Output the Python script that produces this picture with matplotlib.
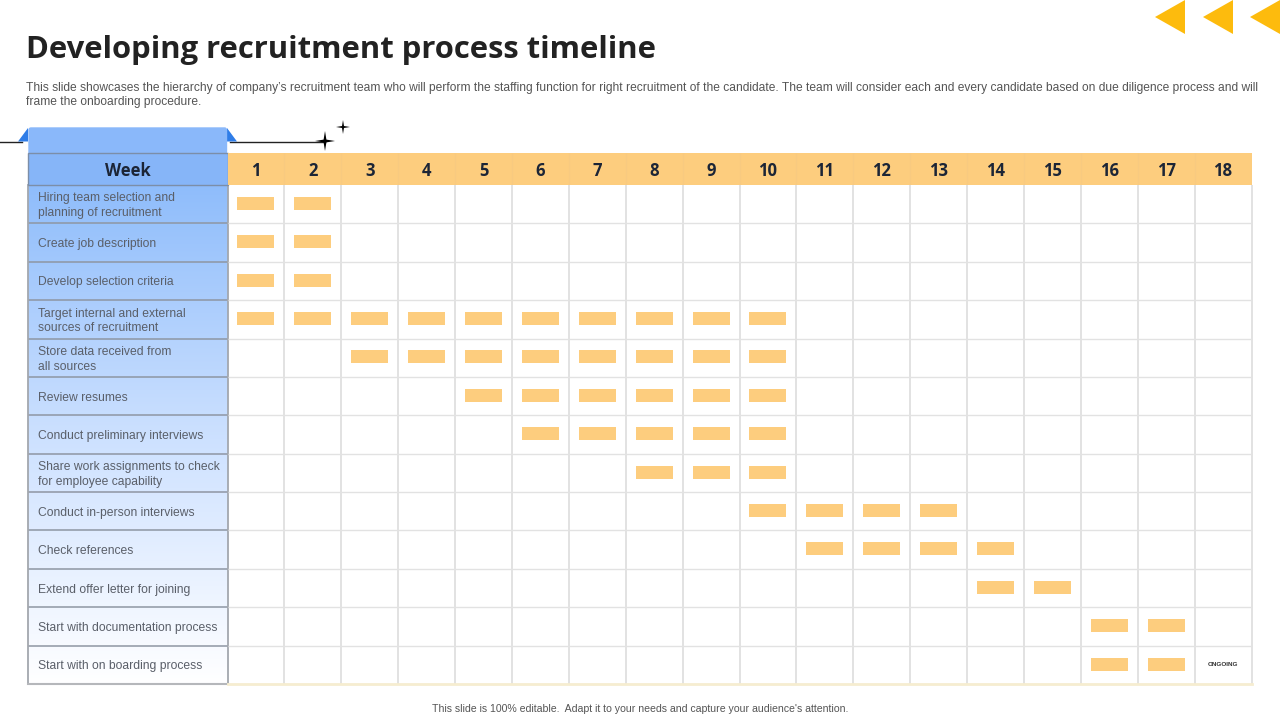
import matplotlib
matplotlib.use("Agg")
import matplotlib.pyplot as plt
import numpy as np
from matplotlib.patches import FancyBboxPatch, Polygon, Rectangle

tasks = [
    "Hiring team selection and\nplanning of recruitment",
    "Create job description",
    "Develop selection criteria",
    "Target internal and external\nsources of recruitment",
    "Store data received from\nall sources",
    "Review resumes",
    "Conduct preliminary interviews",
    "Share work assignments to check\nfor employee capability",
    "Conduct in-person interviews",
    "Check references",
    "Extend offer letter for joining",
    "Start with documentation process",
    "Start with on boarding process",
]
first_week = [1, 1, 1, 1, 3, 5, 6, 8, 10, 11, 14, 16, 16]
last_week = [2, 2, 2, 10, 10, 10, 10, 10, 13, 14, 15, 17, 17]
weeks = list(range(1, 19))

title = "Developing recruitment process timeline"
intro = (
    "This slide showcases the hierarchy of company\u2019s recruitment team who will perform the staffing "
    "function for right recruitment of the candidate. The team will consider each and every candidate "
    "based on due diligence process and will\nframe the onboarding procedure."
)
footer = "This slide is 100% editable.  Adapt it to your needs and capture your audience's attention."

ORANGE = "#fdcd7e"
GRID = "#e2e2e2"
DARK = "#1c2536"
TEXT = "#5a5f69"


def pixel_axes(fig, left, top, right, bottom):
    return fig.add_axes([left / 1280, 1 - bottom / 720, (right - left) / 1280, (bottom - top) / 720])


def main():
    fig = plt.figure(figsize=(12.8, 7.2), dpi=100, facecolor="white")

    # whole slide, in pixels
    page = pixel_axes(fig, 0, 0, 1280, 720)
    page.set_xlim(0, 1280)
    page.set_ylim(720, 0)
    page.axis("off")

    page.text(26, 58, title, fontsize=22.3, fontweight="bold", family="Open Sans", color="#222222", va="baseline")
    page.text(26, 95, intro, fontsize=8.66, family="Liberation Sans", color="#555555", va="center", linespacing=1.12)
    page.text(640, 709, footer, fontsize=7.6, family="Liberation Sans", color="#555555", ha="center", va="center")

    # arrows top right
    for tip in [1155, 1203, 1250]:
        page.add_patch(Polygon([(tip, 17), (tip + 30, 0), (tip + 30, 34)], color="#fdbb0d", lw=0))

    # ribbon on top of the table
    page.plot([0, 22], [141.5, 141.5], color="#222222", lw=1)
    page.plot([230, 325], [141.5, 141.5], color="#222222", lw=1)
    page.add_patch(Polygon([(18, 141.5), (28, 128), (28, 141.5)], color="#2f7de8", lw=0, zorder=3))
    page.add_patch(Polygon([(237, 141.5), (227, 128), (227, 141.5)], color="#2f7de8", lw=0, zorder=3))
    page.add_patch(FancyBboxPatch((29, 128), 197.5, 30, boxstyle="round,pad=0,rounding_size=2",
                                  facecolor="#8ab8fa", edgecolor="#8ab8fa", lw=1, zorder=3))
    for cx, cy, r in [(325, 141, 10), (343, 127, 7)]:
        s = r * 0.14
        page.add_patch(Polygon(
            [(cx, cy - r), (cx + s, cy - s), (cx + r, cy), (cx + s, cy + s),
             (cx, cy + r), (cx - s, cy + s), (cx - r, cy), (cx - s, cy - s)],
            color="black", lw=0, zorder=3))

    # task column
    col = pixel_axes(fig, 28, 185, 227.5, 684)
    col.set_xlim(0, 1)
    col.set_ylim(len(tasks), 0)
    col.axis("off")
    fade = np.array([[0.56, 0.74, 0.985], [0.80, 0.88, 1.0], [1.0, 1.0, 1.0]])
    shade = np.stack([np.interp(np.linspace(0, 1, 256), [0, 0.5, 1], fade[:, i]) for i in range(3)], axis=1)
    col.imshow(shade[:, None, :], extent=[0, 1, len(tasks), 0], aspect="auto", zorder=0)
    col.hlines(range(1, len(tasks)), 0, 1, color="#8e96a3", lw=1.1)
    for i, task in enumerate(tasks):
        col.text(0.05, i + 0.54, task, fontsize=8.7, family="Liberation Sans", color=TEXT, va="center", linespacing=1.28)
    for edge in [0, 1]:
        col.plot([edge, edge], [0, len(tasks)], color="#a3a7ae", lw=1.3, clip_on=False)
    col.plot([0, 1], [len(tasks), len(tasks)], color="#b5b7bb", lw=1.5, clip_on=False)

    # header row
    corner = pixel_axes(fig, 28, 153, 227.5, 185)
    corner.set_xlim(0, 1)
    corner.set_ylim(1, 0)
    corner.axis("off")
    corner.add_patch(Rectangle((0, 0), 1, 1, facecolor="#86b5f8", edgecolor="#7c8ea8", lw=1, clip_on=False))
    corner.text(0.5, 0.55, "Week", fontsize=12, fontweight="bold", family="Open Sans", color=DARK, ha="center", va="center")

    head = pixel_axes(fig, 227.5, 153, 1251.5, 185)
    head.set_xlim(0, len(weeks))
    head.set_ylim(1, 0)
    head.axis("off")
    head.add_patch(Rectangle((0, 0), len(weeks), 1, color=ORANGE, lw=0))
    head.vlines(range(1, len(weeks)), 0, 1, color="#f8ca80", lw=1)
    for i, week in enumerate(weeks):
        head.text(i + 0.5, 0.55, str(week), fontsize=12, fontweight="bold", family="Open Sans", color=DARK, ha="center", va="center")

    # gantt grid
    ax = pixel_axes(fig, 227.5, 185, 1251.5, 684)
    ax.set_xlim(0, len(weeks))
    ax.set_ylim(len(tasks), 0)
    ax.axis("off")
    ax.vlines(range(1, len(weeks) + 1), 0, len(tasks), color=GRID, lw=1.4, clip_on=False)
    ax.hlines(range(1, len(tasks)), 0, len(weeks), color=GRID, lw=1)
    ax.plot([0, len(weeks)], [len(tasks), len(tasks)], color="#f6edd0", lw=2, clip_on=False)

    for i in range(len(tasks)):
        cols = np.arange(first_week[i], last_week[i] + 1) - 0.5
        ax.barh(np.full(len(cols), i + 0.48), 0.65, left=cols - 0.5 + 0.175, height=0.34, color=ORANGE, lw=0, zorder=3)
    ax.text(17.5, 12.49, "ONGOING", fontsize=4.6, fontweight="bold", family="Liberation Sans", color="#333333", ha="center", va="center")

    # render
    fig.savefig("out.png", dpi=100)


if __name__ == "__main__":
    main()
